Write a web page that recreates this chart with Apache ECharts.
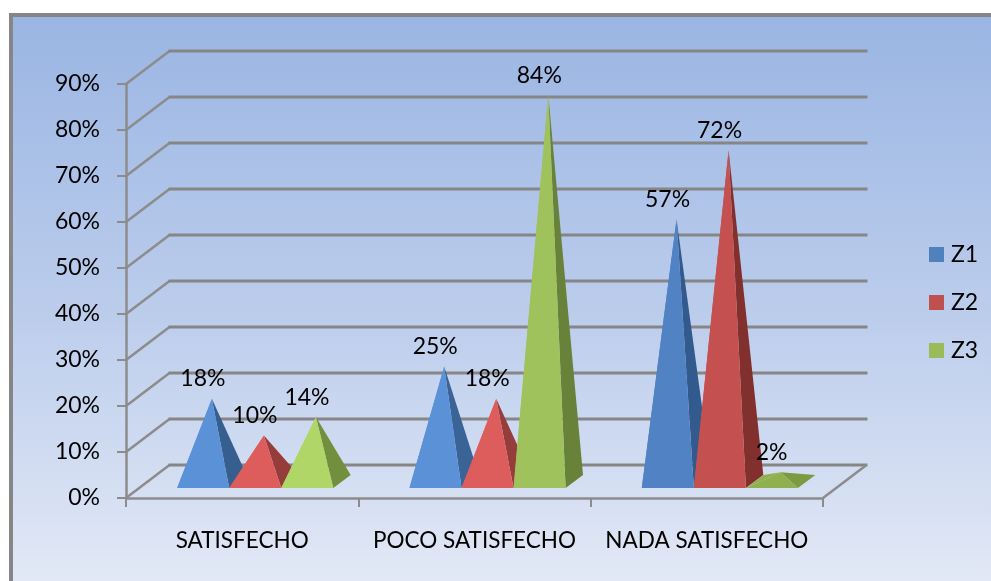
<!DOCTYPE html>
<html><head><meta charset="utf-8">
<style>html,body{margin:0;padding:0;background:#fff}#c{width:991px;height:581px}</style>
<script src="https://cdn.jsdelivr.net/npm/echarts@6/dist/echarts.min.js"></script>
</head><body><div id="c"></div>
<script>
const categories = ['SATISFECHO', 'POCO SATISFECHO', 'NADA SATISFECHO'];
const z1 = [18, 25, 57];
const z2 = [10, 18, 72];
const z3 = [14, 84, 2];
const yTicks = [0, 10, 20, 30, 40, 50, 60, 70, 80, 90];

const FONT = 'Lato';
const FONT_SIZE = 23;
const GREY = '#868686';
const LIGHT_GREY = '#8c8c8c';
const DEPTH_X = 43.5, DEPTH_Y = 33;
const frontShades = [['#5b91d6','#5b91d6','#5082c4'],['#dd5d5d','#dd5d5d','#c4514f'],['#b0d668','#a0c25c','#90b050']];
const sideShades = [['#365f90','#3a6396','#325a8c'],['#963c3a','#963c3a','#81302e'],['#728f3e','#688239','#7c9a42']];
const legendColors = ['#4f81bd', '#c0504d', '#9bbb59'];

const chart = echarts.init(document.getElementById('c'));

function project(api, cat, value, d, shift) {
  const p = api.coord([cat, value]);
  return [p[0] + shift + d * DEPTH_X, p[1] - d * DEPTH_Y];
}

function pyramid(seriesIdx) {
  return function (params, api) {
    const cat = api.value(0), val = api.value(1);
    const barW = api.size([1, 0])[0] * 0.224;
    const s = (seriesIdx - 1) * barW;
    const pt = (off, d) => project(api, cat, 0, d, s + off * barW);
    const fl = pt(-0.5, 0.3), fr = pt(0.5, 0.3), br = pt(0.5, 0.7), bl = pt(-0.5, 0.7);
    const apex = project(api, cat, val, 0.5, s);
    const front = frontShades[seriesIdx][cat], side = sideShades[seriesIdx][cat];
    return { type: 'group', children: [
      { type: 'polygon', shape: { points: [fl, bl, apex] }, style: { fill: front } },
      { type: 'polygon', shape: { points: [fr, br, apex] }, style: { fill: side } },
      { type: 'polygon', shape: { points: [fl, fr, apex] }, style: { fill: front } },
      { type: 'text', z2: 50, style: { text: val + '%', x: apex[0] - 9, y: apex[1] - 20, align: 'center', verticalAlign: 'middle',
        fontFamily: FONT, fontSize: FONT_SIZE, fill: '#000' } }
    ] };
  };
}

function wall(params, api) {
  const cs = params.coordSys, v = api.value(0);
  const a = api.coord([0, v]);
  const x0 = cs.x, x1 = cs.x + cs.width;
  const kids = [
    { type: 'polyline', shape: { points: [[x0, a[1]], [x0 + DEPTH_X, a[1] - DEPTH_Y]] }, style: { stroke: LIGHT_GREY, lineWidth: 2.5, fill: null } },
    { type: 'line', shape: { x1: x0 + DEPTH_X - 1, y1: a[1] - DEPTH_Y, x2: x1 + DEPTH_X + 1, y2: a[1] - DEPTH_Y }, style: { stroke: GREY, lineWidth: 3 } }
  ];
  if (v === 0) kids.push({ type: 'line', shape: { x1: x1, y1: a[1], x2: x1 + DEPTH_X, y2: a[1] - DEPTH_Y }, style: { stroke: LIGHT_GREY, lineWidth: 2.5 } });
  return { type: 'group', children: kids };
}

const toData = arr => arr.map((v, i) => [i, v]);

chart.setOption({
  animation: false,
  backgroundColor: '#fff',
  graphic: [{ type: 'rect', z: -100, shape: { x: 11, y: 15, width: 1010, height: 600 },
    style: { stroke: GREY, lineWidth: 4, fill: new echarts.graphic.LinearGradient(0, 0, 0, 1, [
      { offset: 0, color: '#9ab5e3' }, { offset: 0.5, color: '#bccdec' }, { offset: 0.95, color: '#e3e9f6' }, { offset: 1, color: '#e3e9f6' }]) } }],
  grid: { left: 126, right: 168, top: 84, bottom: 83, containLabel: false },
  legend: { orient: 'vertical', left: 929, top: 243, padding: 0, itemWidth: 15, itemHeight: 15, itemGap: 25, icon: 'rect',
    data: ['Z1', 'Z2', 'Z3'], selectedMode: false,
    textStyle: { fontFamily: FONT, fontSize: FONT_SIZE, color: '#000', padding: [0, 0, 0, 2] } },
  xAxis: { type: 'category', data: categories, boundaryGap: true,
    axisLine: { lineStyle: { color: LIGHT_GREY, width: 2.5 } },
    axisTick: { show: true, length: 9, alignWithLabel: false, lineStyle: { color: LIGHT_GREY, width: 2 } },
    axisLabel: { margin: 31, interval: 0, fontFamily: FONT, fontSize: 22.5, color: '#000' } },
  yAxis: { type: 'value', min: 0, max: 90, interval: 10,
    axisLine: { show: true, lineStyle: { color: LIGHT_GREY, width: 2.5 } },
    axisTick: { show: true, length: 9, lineStyle: { color: LIGHT_GREY, width: 2 } },
    axisLabel: { margin: 26, padding: [4, 0, 0, 0], formatter: '{value}%', fontFamily: FONT, fontSize: FONT_SIZE, color: '#000' },
    splitLine: { show: false } },
  series: [
    { type: 'custom', name: 'wall', silent: true, z: 1, renderItem: wall, data: yTicks.map(v => [v]), encode: { y: 0 } },
    { type: 'custom', name: 'Z1', z: 2, renderItem: pyramid(0), data: toData(z1), itemStyle: { color: legendColors[0] }, encode: { x: 0, y: 1 } },
    { type: 'custom', name: 'Z2', z: 3, renderItem: pyramid(1), data: toData(z2), itemStyle: { color: legendColors[1] }, encode: { x: 0, y: 1 } },
    { type: 'custom', name: 'Z3', z: 4, renderItem: pyramid(2), data: toData(z3), itemStyle: { color: legendColors[2] }, encode: { x: 0, y: 1 } }
  ]
});
</script></body></html>
